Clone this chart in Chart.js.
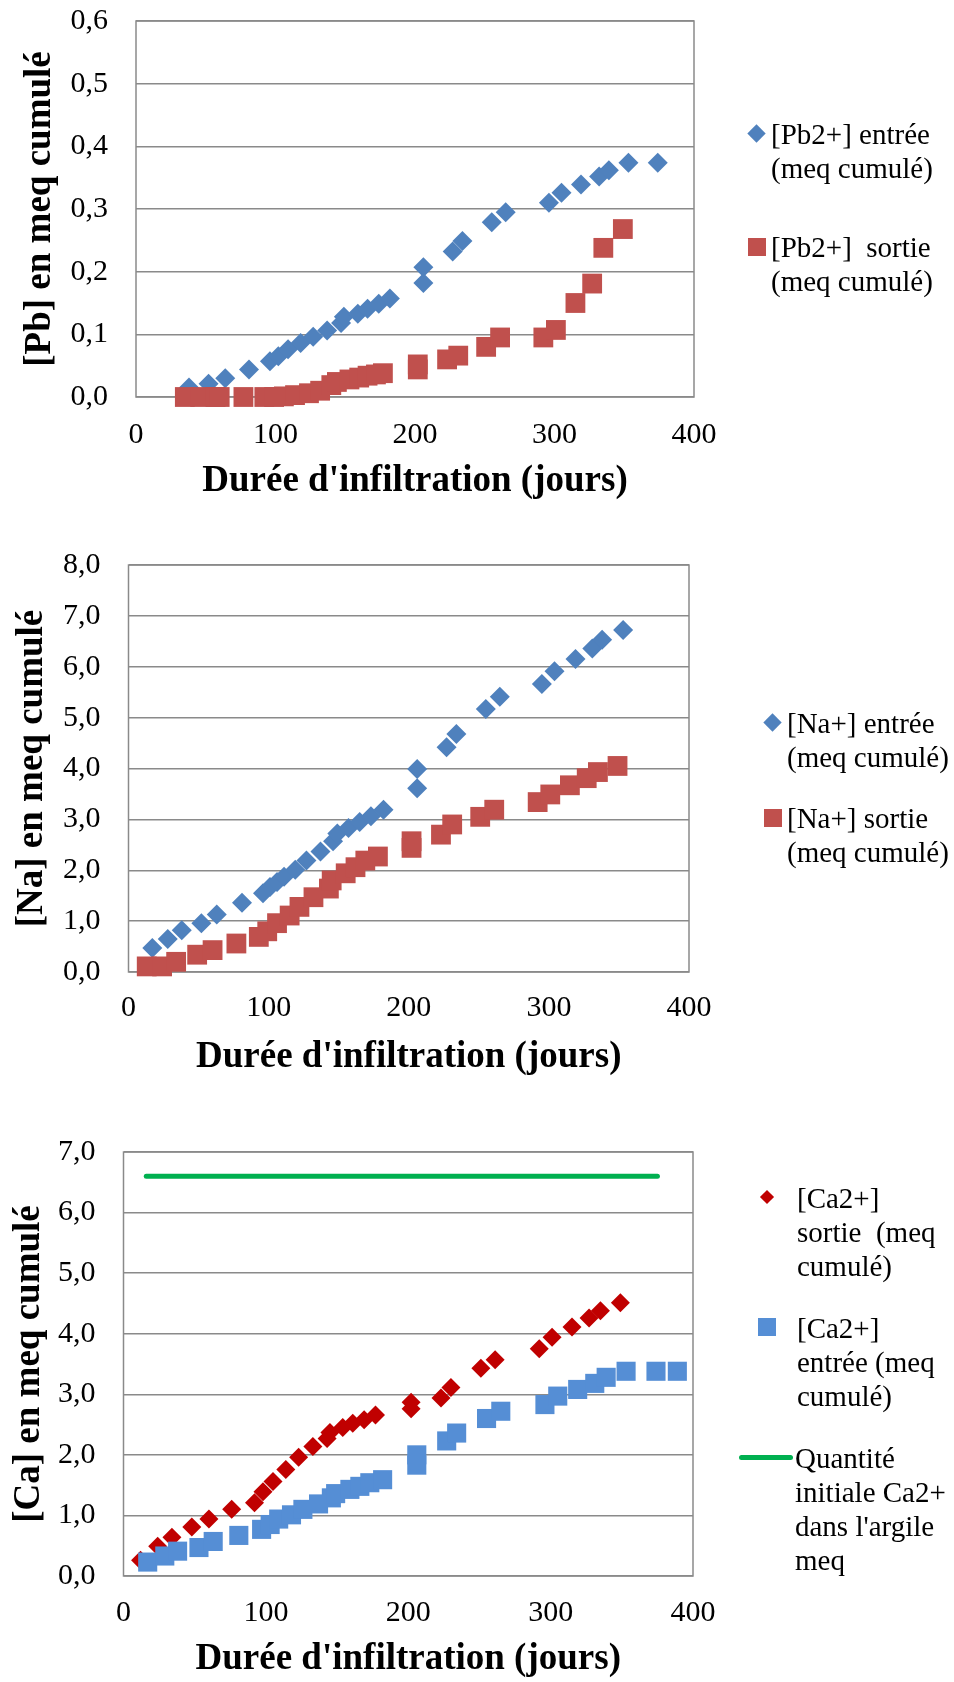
<!DOCTYPE html>
<html lang="fr">
<head>
<meta charset="utf-8">
<script src="https://cdn.jsdelivr.net/npm/chart.js@4.4.1/dist/chart.umd.min.js"></script>
<style>
  html, body { margin: 0; padding: 0; background: #fff; }
  body { width: 954px; height: 1682px; position: relative; overflow: hidden;
         font-family: "Liberation Serif", "Times New Roman", serif; }
  .box { position: absolute; left: 0; width: 954px; }
  .leg { position: absolute; font-size: 29px; line-height: 34px; color: #000; white-space: pre; }
  .mk { position: absolute; }
</style>
</head>
<body>
<div class="box" style="top:0;height:500px"><canvas id="cPb"></canvas></div>
<div class="box" style="top:520px;height:556px"><canvas id="cNa"></canvas></div>
<div class="box" style="top:1110px;height:572px"><canvas id="cCa"></canvas></div>

<!-- legends -->
<div class="mk" style="left:750px;top:127px;width:13px;height:13px;background:#4F81BD;transform:rotate(45deg)"></div>
<div class="leg" style="left:771px;top:117px">[Pb2+] entrée
(meq cumulé)</div>
<div class="mk" style="left:748px;top:238px;width:18px;height:18px;background:#C0504D"></div>
<div class="leg" style="left:771px;top:230px">[Pb2+]  sortie
(meq cumulé)</div>

<div class="mk" style="left:766px;top:716px;width:13px;height:13px;background:#4F81BD;transform:rotate(45deg)"></div>
<div class="leg" style="left:787px;top:706px">[Na+] entrée
(meq cumulé)</div>
<div class="mk" style="left:764px;top:809px;width:18px;height:18px;background:#C0504D"></div>
<div class="leg" style="left:787px;top:801px">[Na+] sortie
(meq cumulé)</div>

<div class="mk" style="left:762px;top:1192px;width:10px;height:10px;background:#C00000;transform:rotate(45deg)"></div>
<div class="leg" style="left:797px;top:1181px">[Ca2+]
sortie  (meq
cumulé)</div>
<div class="mk" style="left:758px;top:1318px;width:18px;height:18px;background:#558ED5"></div>
<div class="leg" style="left:797px;top:1311px">[Ca2+]
entrée (meq
cumulé)</div>
<div class="mk" style="left:739px;top:1455px;width:54px;height:5px;background:#00B050;border-radius:3px"></div>
<div class="leg" style="left:795px;top:1441px">Quantité
initiale Ca2+
dans l'argile
meq</div>

<script>
// ---- data ----
const xTicks = [0, 100, 200, 300, 400];

const pbInDays = [38, 52, 64, 81, 96, 102, 109, 118, 127, 137, 147, 149, 159, 166, 174, 182, 206, 206, 227, 234, 255, 265, 296, 305, 319, 332, 339, 353, 374];
const pbIn = [0.015, 0.021, 0.030, 0.044, 0.057, 0.065, 0.076, 0.086, 0.096, 0.106, 0.118, 0.128, 0.133, 0.141, 0.149, 0.157, 0.182, 0.207, 0.232, 0.249, 0.279, 0.295, 0.310, 0.326, 0.339, 0.352, 0.362, 0.374, 0.374];
const pbOutDays = [35, 46, 57, 60, 77, 92, 99, 106, 114, 124, 132, 140, 144, 153, 160, 166, 172, 177, 202, 202, 223, 231, 251, 261, 292, 301, 315, 327, 335, 349];
const pbOut = [0, 0, 0, 0, 0, 0, 0, 0.001, 0.003, 0.006, 0.010, 0.019, 0.024, 0.028, 0.031, 0.034, 0.036, 0.038, 0.044, 0.052, 0.060, 0.066, 0.080, 0.095, 0.095, 0.107, 0.150, 0.181, 0.238, 0.268];

const naInDays = [17, 28, 38, 52, 63, 81, 96, 101, 106, 111, 119, 127, 137, 146, 149, 157, 165, 173, 182, 206, 206, 227, 234, 255, 265, 295, 304, 319, 331, 338, 353];
const naIn = [0.47, 0.65, 0.82, 0.96, 1.13, 1.36, 1.55, 1.67, 1.77, 1.87, 2.01, 2.19, 2.37, 2.57, 2.72, 2.83, 2.95, 3.06, 3.19, 3.61, 3.99, 4.42, 4.68, 5.17, 5.41, 5.66, 5.91, 6.15, 6.36, 6.53, 6.72];
const naOutDays = [13, 24, 34, 49, 60, 77, 93, 99, 106, 115, 122, 132, 143, 145, 155, 162, 169, 178, 202, 202, 223, 231, 251, 261, 292, 301, 315, 327, 335, 349];
const naOut = [0.11, 0.11, 0.20, 0.34, 0.43, 0.56, 0.69, 0.80, 0.96, 1.11, 1.28, 1.47, 1.64, 1.80, 1.94, 2.06, 2.19, 2.27, 2.44, 2.57, 2.70, 2.90, 3.05, 3.19, 3.34, 3.49, 3.67, 3.81, 3.93, 4.05];

const caOutDays = [12, 24, 34, 48, 60, 76, 92, 98, 105, 114, 123, 133, 143, 145, 154, 161, 169, 177, 202, 202, 223, 230, 251, 261, 292, 301, 315, 327, 335, 349];
const caOut = [0.26, 0.49, 0.64, 0.81, 0.94, 1.10, 1.21, 1.39, 1.56, 1.76, 1.96, 2.14, 2.27, 2.37, 2.45, 2.52, 2.58, 2.66, 2.76, 2.87, 2.94, 3.11, 3.43, 3.57, 3.75, 3.94, 4.11, 4.26, 4.38, 4.51];
const caInDays = [17, 29, 38, 53, 63, 81, 97, 103, 109, 118, 126, 137, 146, 149, 159, 166, 173, 182, 206, 206, 227, 234, 255, 265, 296, 305, 319, 331, 339, 353, 374, 389];
const caIn = [0.23, 0.33, 0.41, 0.47, 0.57, 0.67, 0.77, 0.85, 0.94, 1.01, 1.10, 1.19, 1.29, 1.36, 1.43, 1.48, 1.54, 1.59, 1.83, 2.00, 2.23, 2.36, 2.60, 2.72, 2.83, 2.97, 3.08, 3.18, 3.28, 3.38, 3.38, 3.38];
const caInitDays = [16, 375];
const caInit = [6.6, 6.6];

const X_TITLE = "Durée d'infiltration (jours)";
const GRID = "#8a8a8a";
const TICK_FONT = { family: "Liberation Serif", size: 30, lineHeight: 1.2 };
const TITLE_FONT = { family: "Liberation Serif", size: 37, weight: "bold", lineHeight: 1 };

function pts(xs, ys) {
  return xs.map((x, i) => ({ x, y: ys[i] }));
}

// Excel-like plot area frame
const plotBox = {
  id: "plotBox",
  beforeDatasetsDraw(chart) {
    const { ctx, chartArea: a } = chart;
    ctx.save();
    ctx.strokeStyle = GRID;
    ctx.lineWidth = 1.5;
    ctx.strokeRect(a.left, a.top, a.right - a.left, a.bottom - a.top);
    ctx.restore();
  }
};

function makeChart(id, datasets, o) {
  return new Chart(document.getElementById(id), {
    type: "scatter",
    data: { datasets },
    options: {
      responsive: true,
      maintainAspectRatio: false,
      animation: false,
      layout: { padding: { top: o.top, right: 954 - o.right, left: 0, bottom: o.bottom || 0 } },
      plugins: { legend: { display: false }, tooltip: { enabled: false } },
      scales: {
        x: {
          min: 0, max: 400,
          afterBuildTicks: (s) => { s.ticks = xTicks.map(v => ({ value: v })); },
          ticks: { padding: o.xTickPad, font: TICK_FONT, color: "#000", maxRotation: 0, autoSkip: false },
          grid: { display: false, drawTicks: false },
          border: { display: false },
          title: { display: true, text: X_TITLE, font: TITLE_FONT, color: "#000", padding: 0 },
          afterFit: (s) => { s.height = o.xH; }
        },
        y: {
          min: 0, max: o.yMax,
          ticks: {
            stepSize: o.yStep, padding: o.yTickPad, font: TICK_FONT, color: "#000",
            callback: (v) => v.toFixed(1).replace(".", ",")
          },
          grid: { color: GRID, lineWidth: 1.5, drawTicks: false },
          border: { display: false },
          title: { display: true, text: o.yTitle, font: TITLE_FONT, color: "#000", padding: { top: o.yTitlePad, bottom: 0 } },
          afterFit: (s) => { s.width = o.yW; s.paddingTop = 0; s.paddingBottom = 0; }
        }
      }
    },
    plugins: [plotBox]
  });
}

makeChart("cPb", [
  { label: "[Pb2+] entrée (meq cumulé)", data: pts(pbInDays, pbIn), pointStyle: "rectRot", pointRadius: 10,
    backgroundColor: "#4F81BD", borderWidth: 0, order: 2, clip: false },
  { label: "[Pb2+]  sortie (meq cumulé)", data: pts(pbOutDays, pbOut), pointStyle: "rect", pointRadius: 14,
    backgroundColor: "#C0504D", borderWidth: 0, order: 1, clip: false }
], { top: 21, right: 694, yW: 136, xH: 103, xTickPad: 20, yTickPad: 28, yTitlePad: 22, yMax: 0.6, yStep: 0.1,
     yTitle: "[Pb] en meq cumulé" });

makeChart("cNa", [
  { label: "[Na+] entrée (meq cumulé)", data: pts(naInDays, naIn), pointStyle: "rectRot", pointRadius: 10,
    backgroundColor: "#4F81BD", borderWidth: 0, order: 2, clip: false },
  { label: "[Na+] sortie (meq cumulé)", data: pts(naOutDays, naOut), pointStyle: "rect", pointRadius: 14,
    backgroundColor: "#C0504D", borderWidth: 0, order: 1, clip: false }
], { top: 45, right: 689, yW: 128.5, xH: 104, xTickPad: 18, yTickPad: 28, yTitlePad: 14, yMax: 8, yStep: 1,
     yTitle: "[Na] en meq cumulé" });

makeChart("cCa", [
  { label: "[Ca2+] sortie (meq cumulé)", data: pts(caOutDays, caOut), pointStyle: "rectRot", pointRadius: 9.5,
    backgroundColor: "#C00000", borderWidth: 0, order: 3, clip: false },
  { label: "[Ca2+] entrée (meq cumulé)", data: pts(caInDays, caIn), pointStyle: "rect", pointRadius: 13.5,
    backgroundColor: "#558ED5", borderWidth: 0, order: 2, clip: false },
  { label: "Quantité initiale Ca2+ dans l'argile meq", type: "line", data: pts(caInitDays, caInit),
    borderColor: "#00B050", borderWidth: 5, borderCapStyle: "round", pointRadius: 0, showLine: true, order: 1, clip: false }
], { top: 42, bottom: 4, right: 693, yW: 123.5, xH: 102, xTickPad: 19, yTickPad: 28, yTitlePad: 11, yMax: 7, yStep: 1,
     yTitle: "[Ca] en meq cumulé" });
</script>
</body>
</html>
